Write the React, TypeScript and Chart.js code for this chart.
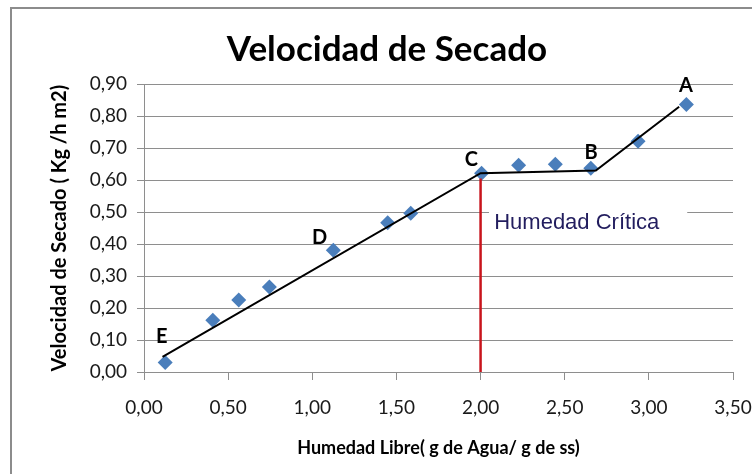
import React, { useEffect, useRef } from 'react';
import { Chart, registerables } from 'chart.js';

Chart.register(...registerables);

// Measured drying-rate points (free moisture, drying rate)
const moistureX = [0.126, 0.409, 0.563, 0.745, 1.125, 1.448, 1.585, 2.006, 2.226, 2.444, 2.655, 2.936, 3.223];
const rateY = [0.030, 0.162, 0.225, 0.266, 0.381, 0.467, 0.497, 0.622, 0.647, 0.650, 0.637, 0.722, 0.837];

// Hand-drawn fitting segments E-C, C-B, B-A
const fitX = [0.11, 2.0, 2.685, 3.18];
const fitY = [0.047, 0.622, 0.63, 0.83];

// Critical-moisture vertical line
const criticalX = [2.0, 2.0];
const criticalY = [0.0, 0.605];

// Letter labels
const pointLabels = ['A', 'B', 'C', 'D', 'E'];
const pointLabelX = [3.221, 2.657, 1.945, 1.044, 0.106];
const pointLabelY = [0.895, 0.688, 0.666, 0.42, 0.112];

// Annotation
const annotationText = 'Humedad Crítica';
const annotationPos = [2.081, 0.447];
const annotationBoxX = [2.05, 3.228];
const annotationBoxY = [0.41, 0.54];

// Tick labels
const xTickLabels = ['0,00', '0,50', '1,00', '1,50', '2,00', '2,50', '3,00', '3,50'];
const yTickLabels = ['0,00', '0,10', '0,20', '0,30', '0,40', '0,50', '0,60', '0,70', '0,80', '0,90'];

const chartTitle = 'Velocidad de Secado';
const xTitle = 'Humedad Libre( g de Agua/ g de ss)';
const yTitle = 'Velocidad de Secado ( Kg /h m2)';

const GRID = '#8e8e8e';
const FONT = 'Lato, "Open Sans", sans-serif';

const overlayPlugin = {
  id: 'overlay',
  beforeDatasetsDraw(chart: any) {
    const { ctx, scales } = chart;
    const x = scales.x;
    const y = scales.y;
    ctx.save();
    const l = x.getPixelForValue(annotationBoxX[0]);
    const r = x.getPixelForValue(annotationBoxX[1]);
    const t = y.getPixelForValue(annotationBoxY[1]);
    const b = y.getPixelForValue(annotationBoxY[0]);
    ctx.fillStyle = '#ffffff';
    ctx.fillRect(l, t, r - l, b - t);
    ctx.font = '22px "Liberation Sans", Arial, sans-serif';
    ctx.fillStyle = '#221d5e';
    ctx.textAlign = 'left';
    ctx.textBaseline = 'alphabetic';
    ctx.fillText(annotationText, x.getPixelForValue(annotationPos[0]), y.getPixelForValue(annotationPos[1]));
    ctx.restore();
  },
  afterDatasetsDraw(chart: any) {
    const { ctx, scales } = chart;
    const x = scales.x;
    const y = scales.y;
    ctx.save();
    ctx.font = `bold 20px ${FONT}`;
    ctx.fillStyle = '#000000';
    ctx.textAlign = 'center';
    ctx.textBaseline = 'middle';
    pointLabels.forEach((lab, i) => {
      ctx.fillText(lab, x.getPixelForValue(pointLabelX[i]), y.getPixelForValue(pointLabelY[i]));
    });
    ctx.restore();
  },
};

const PAD_LEFT = 41;

export default function App() {
  const canvasRef = useRef<HTMLCanvasElement | null>(null);

  useEffect(() => {
    if (!canvasRef.current) return;
    const chart = new Chart(canvasRef.current, {
      type: 'scatter',
      data: {
        datasets: [
          {
            type: 'line',
            label: 'fit',
            data: fitX.map((v, i) => ({ x: v, y: fitY[i] })),
            borderColor: '#000000',
            borderWidth: 2,
            pointRadius: 0,
            fill: false,
            tension: 0,
            order: 0,
          },
          {
            type: 'line',
            label: 'critical',
            data: criticalX.map((v, i) => ({ x: v, y: criticalY[i] })),
            borderColor: '#c8141c',
            borderWidth: 2.5,
            pointRadius: 0,
            fill: false,
            order: 0,
          },
          {
            label: 'data',
            data: moistureX.map((v, i) => ({ x: v, y: rateY[i] })),
            backgroundColor: '#4a7ebb',
            borderWidth: 0,
            pointStyle: 'rectRot',
            pointRadius: 7.5,
            order: 1,
          },
        ],
      },
      options: {
        animation: false,
        responsive: false,
        devicePixelRatio: 1,
        layout: { padding: { left: PAD_LEFT, right: 19, top: 0, bottom: 0 } },
        plugins: {
          legend: { display: false },
          tooltip: { enabled: false },
          title: {
            display: true,
            text: chartTitle,
            color: '#000000',
            font: { family: FONT, size: 35, weight: 'bold' },
            padding: { top: 28.5, bottom: 13.8 },
          },
        },
        scales: {
          x: {
            type: 'linear',
            min: 0,
            max: 3.5,
            afterFit: (s: any) => {
              s.height = 102;
              s.paddingRight = 0;
              s.paddingLeft = 0;
            },
            ticks: {
              stepSize: 0.5,
              color: '#1a1a1a',
              font: { family: FONT, size: 19 },
              padding: 16,
              maxRotation: 0,
              callback: (_v: any, i: number) => xTickLabels[i],
            },
            grid: {
              drawOnChartArea: false,
              drawTicks: true,
              tickLength: 8,
              color: GRID,
            },
            border: { display: true, color: GRID, width: 1 },
            title: {
              display: true,
              text: xTitle,
              color: '#000000',
              font: { family: FONT, size: 18, weight: 'bold' },
              padding: { top: 0, bottom: 15 },
            },
          },
          y: {
            type: 'linear',
            min: 0,
            max: 0.9,
            afterFit: (s: any) => {
              s.width = 144 - PAD_LEFT;
            },
            ticks: {
              stepSize: 0.1,
              color: '#1a1a1a',
              font: { family: FONT, size: 19 },
              padding: 10,
              callback: (_v: any, i: number) => yTickLabels[i],
            },
            grid: {
              drawOnChartArea: true,
              drawTicks: true,
              tickLength: 7,
              color: GRID,
              lineWidth: 1,
            },
            border: { display: true, color: GRID, width: 1 },
            title: {
              display: true,
              text: yTitle,
              color: '#000000',
              font: { family: FONT, size: 20, weight: 'bold' },
              padding: { top: 7, bottom: 0 },
            },
          },
        },
      },
      plugins: [overlayPlugin],
    } as any);
    return () => chart.destroy();
  }, []);

  return (
    <div
      style={{
        position: 'fixed',
        left: 0,
        top: 0,
        width: 752,
        height: 474,
        background: '#ffffff',
        overflow: 'hidden',
      }}
    >
      <canvas ref={canvasRef} width={752} height={474} style={{ position: 'absolute', left: 0, top: 0 }} />
      <div
        style={{
          position: 'absolute',
          left: 10,
          top: 7,
          width: 800,
          height: 520,
          borderLeft: '2px solid #8c8c8c',
          borderTop: '2px solid #8c8c8c',
          pointerEvents: 'none',
        }}
      />
    </div>
  );
}
